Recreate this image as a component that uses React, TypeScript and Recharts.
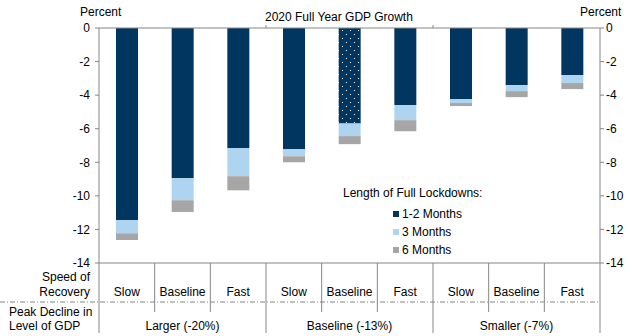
import React from 'react';
import { BarChart, Bar, XAxis, YAxis, Legend, Cell } from 'recharts';

const categories = ['Slow', 'Baseline', 'Fast', 'Slow', 'Baseline', 'Fast', 'Slow', 'Baseline', 'Fast'];
const groups = ['Larger (-20%)', 'Baseline (-13%)', 'Smaller (-7%)'];
// GDP growth level (percent) for each lockdown length
const lockdown12 = [-11.45, -8.95, -7.16, -7.22, -5.69, -4.59, -4.24, -3.40, -2.80];
const lockdown3 = [-12.23, -10.26, -8.83, -7.64, -6.44, -5.49, -4.47, -3.76, -3.28];
const lockdown6 = [-12.63, -10.96, -9.67, -8.0, -6.92, -6.15, -4.65, -4.12, -3.64];
const yTicks = [0, -2, -4, -6, -8, -10, -12, -14];
const seriesNames = ['1-2 Months', '3 Months', '6 Months'];
const dottedIndex = 4;

const DARK = '#00365F';
const LIGHT = '#AED4F0';
const GREY = '#A6A6A6';
const AXIS = '#868686';
const FONT = "Arial, 'Liberation Sans', sans-serif";

const data = categories.map((name, i) => ({
  key: i,
  name,
  group: groups[Math.floor(i / 3)],
  a: lockdown12[i],
  b: +(lockdown3[i] - lockdown12[i]).toFixed(2),
  c: +(lockdown6[i] - lockdown3[i]).toFixed(2),
}));

function TopTick(props: any) {
  const { x, y, payload, index } = props;
  const half = payload?.offset ?? 0;
  if (index % 3 !== 0 || index === 0) return <g />;
  const left = x - half;
  return <line x1={left} x2={left} y1={y} y2={y - 3} stroke={AXIS} strokeWidth={1} />;
}

function BottomTick(props: any) {
  const { x, y, payload, index } = props;
  const half = payload?.offset ?? 0;
  const left = x - half;
  const n = data.length;
  const d = data[index];
  const els: any[] = [];
  els.push(
    <line key="l" x1={left} x2={left} y1={y} y2={y + (index % 3 === 0 ? 70 : 49)} stroke={AXIS} strokeWidth={1} />
  );
  if (index === n - 1) {
    els.push(<line key="r" x1={x + half} x2={x + half} y1={y} y2={y + 70} stroke={AXIS} strokeWidth={1} />);
    els.push(
      <line key="dd" x1={0} x2={x + half} y1={y + 39} y2={y + 39} stroke={AXIS} strokeWidth={1} strokeDasharray="5 2 1 2" />
    );
  }
  if (index === 0) {
    els.push(
      <text key="s1" x={left - 9} y={y + 17.5} textAnchor="end" fontSize={12} fill="#000">Speed of</text>,
      <text key="s2" x={left - 9} y={y + 32.5} textAnchor="end" fontSize={12} fill="#000">Recovery</text>,
      <text key="p1" x={left - 90} y={y + 52.5} textAnchor="start" fontSize={12} fill="#000">Peak Decline in</text>,
      <text key="p2" x={left - 90} y={y + 66.5} textAnchor="start" fontSize={12} fill="#000">Level of GDP</text>
    );
  }
  els.push(
    <text key="c" x={x} y={y + 32.5} textAnchor="middle" fontSize={12} fill="#000">{d?.name}</text>
  );
  if (index % 3 === 1) {
    els.push(
      <text key="g" x={x} y={y + 66.5} textAnchor="middle" fontSize={12} fill="#000">{d?.group}</text>
    );
  }
  return <g>{els}</g>;
}

function LegendContent(props: any) {
  const payload = props.payload || [];
  return (
    <div style={{ fontFamily: FONT, fontSize: 12, color: '#000' }}>
      <div style={{ height: 14, lineHeight: '14px', whiteSpace: 'nowrap' }}>Length of Full Lockdowns:</div>
      <div style={{ marginTop: 5, marginLeft: 50 }}>
        {payload.map((p: any, i: number) => (
          <div key={i} style={{ display: 'flex', alignItems: 'center', height: 18, whiteSpace: 'nowrap' }}>
            <span style={{ display: 'inline-block', width: 6, height: 6, background: p.color, marginRight: 3 }} />
            <span style={{ lineHeight: '18px' }}>{p.value}</span>
          </div>
        ))}
      </div>
    </div>
  );
}

export default function App() {
  return (
    <div style={{ position: 'absolute', left: 0, top: 0, width: 632, height: 336, fontFamily: FONT, background: '#fff' }}>
      <BarChart width={632} height={336} data={data} margin={{ top: 0, right: 0, bottom: 0, left: 59 }} barSize={22}>
        <defs>
          <pattern id="dots" patternUnits="userSpaceOnUse" width="8" height="8">
            <rect x="0" y="0" width="8" height="8" fill={DARK} />
            <rect x="2" y="2" width="1" height="1" fill="#fff" />
            <rect x="6" y="6" width="1" height="1" fill="#fff" />
          </pattern>
        </defs>
        <XAxis
          xAxisId="top"
          orientation="top"
          dataKey="key"
          height={28}
          interval={0}
          axisLine={{ stroke: AXIS }}
          tickLine={false}
          tickSize={0}
          tickMargin={0}
          tick={<TopTick />}
        />
        <XAxis
          xAxisId="bottom"
          orientation="bottom"
          dataKey="key"
          height={73}
          interval={0}
          axisLine={{ stroke: AXIS }}
          tickLine={false}
          tickSize={0}
          tickMargin={0}
          tick={<BottomTick />}
        />
        <YAxis
          yAxisId="left"
          orientation="left"
          width={40}
          domain={[-14, 0]}
          ticks={yTicks}
          interval={0}
          allowDataOverflow
          axisLine={{ stroke: AXIS }}
          tickLine={{ stroke: AXIS }}
          tickSize={4}
          tickMargin={5}
          tick={{ fill: '#000', fontSize: 12 }}
        />
        <YAxis
          yAxisId="right"
          orientation="right"
          width={32}
          domain={[-14, 0]}
          ticks={yTicks}
          interval={0}
          allowDataOverflow
          axisLine={{ stroke: AXIS }}
          tickLine={{ stroke: AXIS }}
          tickSize={4}
          tickMargin={2}
          tick={{ fill: '#000', fontSize: 12 }}
        />
        <Legend
          layout="vertical"
          align="center"
          verticalAlign="middle"
          content={<LegendContent />}
          wrapperStyle={{ position: 'absolute', left: 343, top: 186, width: 200, height: 80 }}
        />
        <Bar dataKey="a" name={seriesNames[0]} stackId="s" xAxisId="bottom" yAxisId="left" fill={DARK} isAnimationActive={false}>
          {data.map((_, i) => (
            <Cell key={i} fill={i === dottedIndex ? 'url(#dots)' : DARK} />
          ))}
        </Bar>
        <Bar dataKey="b" name={seriesNames[1]} stackId="s" xAxisId="bottom" yAxisId="left" fill={LIGHT} isAnimationActive={false} />
        <Bar dataKey="c" name={seriesNames[2]} stackId="s" xAxisId="bottom" yAxisId="left" fill={GREY} isAnimationActive={false} />
      </BarChart>
      <svg width={632} height={336} style={{ position: 'absolute', left: 0, top: 0, pointerEvents: 'none' }}>
        <text x={80} y={16} fontSize={12} fill="#000" fontFamily={FONT}>Percent</text>
        <text x={580} y={16} fontSize={12} fill="#000" fontFamily={FONT}>Percent</text>
        <text x={265} y={21} fontSize={12} fill="#000" fontFamily={FONT}>2020 Full Year GDP Growth</text>
      </svg>
    </div>
  );
}
